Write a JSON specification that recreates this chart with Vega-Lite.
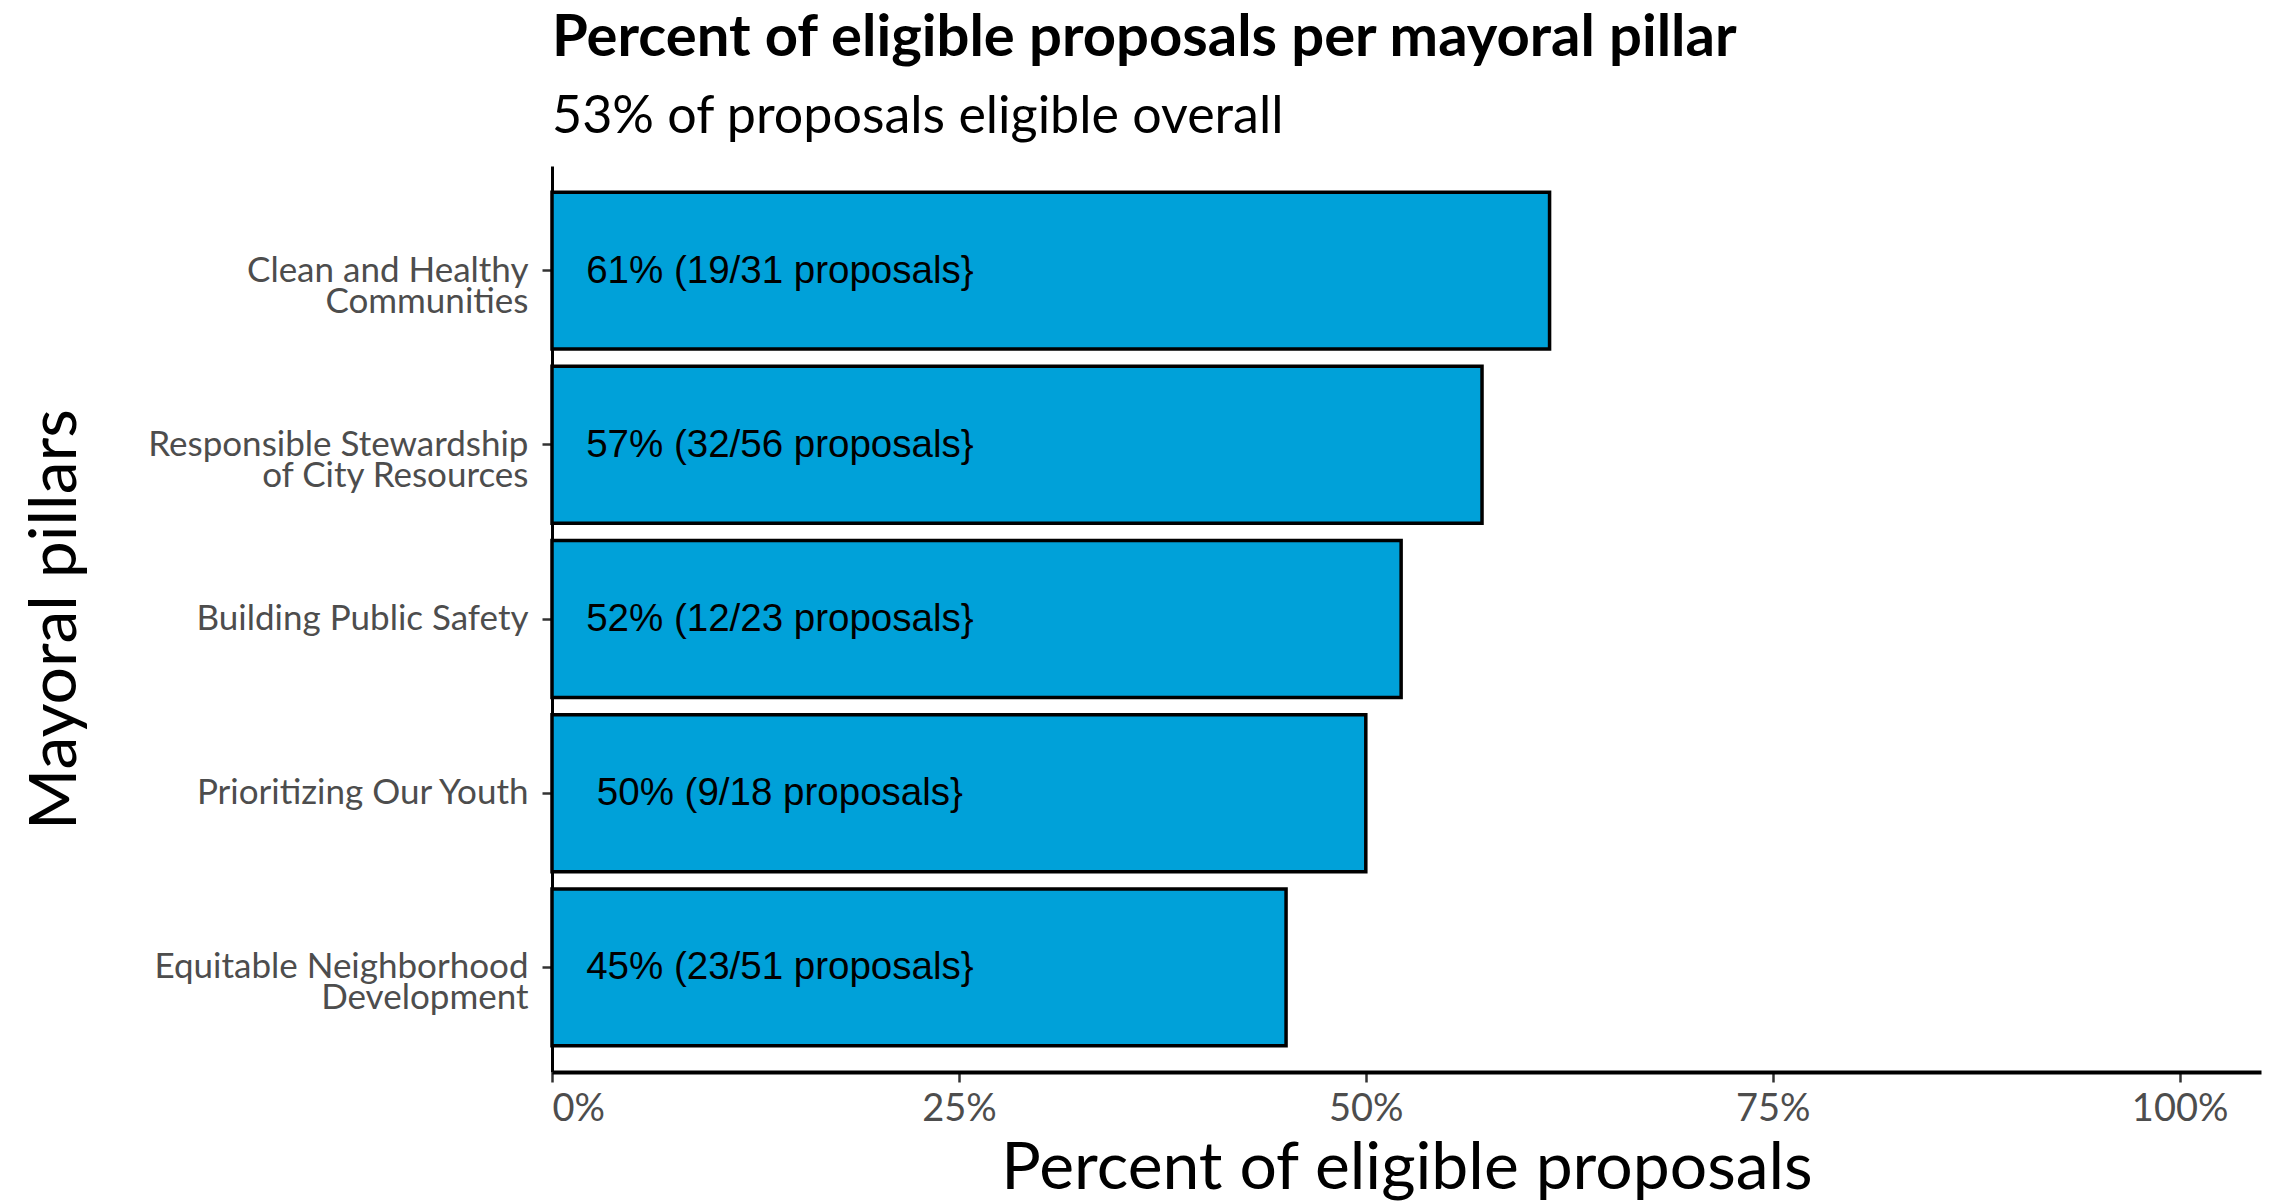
{
  "$schema": "https://vega.github.io/schema/vega-lite/v6.json",
  "width": 1709,
  "height": 906,
  "autosize": {"type": "none"},
  "padding": {"left": 552, "top": 166, "right": 32, "bottom": 130},
  "background": "white",
  "title": {
    "text": "Percent of eligible proposals per mayoral pillar",
    "subtitle": "53% of proposals eligible overall",
    "anchor": "start",
    "frame": "group",
    "font": "Lato",
    "fontSize": 58,
    "fontWeight": "bold",
    "color": "black",
    "dy": -3,
    "subtitleFont": "Lato",
    "subtitleFontSize": 52,
    "subtitleColor": "black",
    "subtitlePadding": 24,
    "offset": 20
  },
  "data": {
    "values": [
      {"pillar": "Clean and Healthy\nCommunities", "pct": 0.6129, "label": "61% (19/31 proposals}"},
      {"pillar": "Responsible Stewardship\nof City Resources", "pct": 0.5714, "label": "57% (32/56 proposals}"},
      {"pillar": "Building Public Safety", "pct": 0.5217, "label": "52% (12/23 proposals}"},
      {"pillar": "Prioritizing Our Youth", "pct": 0.5, "label": "50% (9/18 proposals}"},
      {"pillar": "Equitable Neighborhood\nDevelopment", "pct": 0.451, "label": "45% (23/51 proposals}"}
    ]
  },
  "encoding": {
    "y": {
      "field": "pillar",
      "type": "nominal",
      "sort": null,
      "scale": {"paddingInner": 0.1, "paddingOuter": 0.15},
      "axis": {
        "title": "Mayoral pillars",
        "titleFont": "Lato",
        "titleFontSize": 66,
        "titleFontWeight": "normal",
        "titleColor": "black",
        "titleX": -477,
        "titleY": 453,
        "titleAngle": -90,
        "titleAlign": "center",
        "titleBaseline": "alphabetic",
        "labelExpr": "split(datum.label, '\\n')",
        "labelFont": "Lato",
        "labelFontSize": 35,
        "labelLineHeight": 31,
        "labelLimit": 1000,
        "labelColor": "#4d4d4d",
        "labelPadding": 14,
        "tickSize": 10,
        "tickWidth": 2.5,
        "tickColor": "#333333",
        "domainColor": "black",
        "domainWidth": 3,
        "grid": false
      }
    }
  },
  "layer": [
    {
      "mark": {"type": "bar", "fill": "#00A1D9", "stroke": "black", "strokeWidth": 3.5},
      "encoding": {
        "x": {
          "field": "pct",
          "type": "quantitative",
          "scale": {"domain": [0, 1.05], "nice": false},
          "axis": {
            "values": [0, 0.25, 0.5, 0.75, 1],
            "format": ".0%",
            "title": "Percent of eligible proposals",
            "titleFont": "Lato",
            "titleFontSize": 66,
            "titleFontWeight": "normal",
            "titleColor": "black",
            "titleX": 854.5,
            "titleY": 116,
            "titleAlign": "center",
            "titleBaseline": "alphabetic",
            "labelFont": "Lato",
            "labelFontSize": 38,
            "labelColor": "#4d4d4d",
            "labelPadding": 8,
            "tickSize": 10,
            "tickWidth": 2.5,
            "tickColor": "#333333",
            "domainColor": "black",
            "domainWidth": 4,
            "grid": false
          }
        }
      }
    },
    {
      "mark": {"type": "text", "font": "Liberation Sans", "fontSize": 38.5, "color": "black", "align": "center", "baseline": "middle"},
      "encoding": {
        "x": {"datum": 0.14},
        "text": {"field": "label"}
      }
    }
  ],
  "config": {"view": {"stroke": null}}
}
